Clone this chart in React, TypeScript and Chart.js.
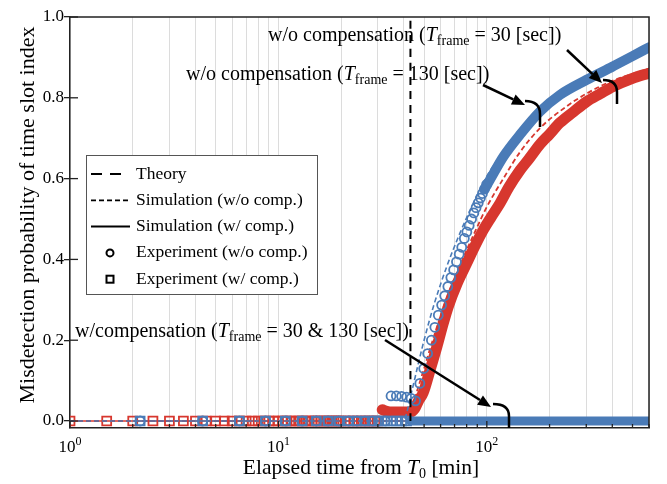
import React, { useEffect, useRef } from 'react';
import { Chart, registerables } from 'chart.js';

Chart.register(...registerables);

const BLUE = '#4a7bb7';
const RED = '#d7372e';
const FONT = '"Liberation Serif", "Times New Roman", serif';

// ---- axis ticks ----
const xTicks = [1, 2, 3, 4, 5, 6, 7, 8, 9, 10, 20, 30, 40, 50, 60, 70, 80, 90, 100, 200, 300, 400, 500, 600];
const xDecades = [1, 10, 100];
const xDecadeExp = ['0', '1', '2'];
const yTicks = [0, 0.2, 0.4, 0.6, 0.8, 1.0];

// ---- theory (vertical step at ~43 min) ----
const theoryT = [43, 43];
const theoryP = [0, 1];

// ---- simulation w/o compensation (dashed) ----
const simBlueWoT = [1, 39.6, 43.8, 46.8, 50, 55.4, 64.2, 74.3, 86.1, 99.8, 115.6, 140, 180, 240, 300, 400, 600];
const simBlueWoP = [0, 0, 0.077, 0.14, 0.2, 0.283, 0.382, 0.465, 0.539, 0.605, 0.654, 0.7, 0.762, 0.812, 0.843, 0.877, 0.925];
const simRedWoT = [1, 41, 43, 46, 50, 55, 60, 66, 75, 88, 100, 120, 144, 180, 240, 300, 400, 600];
const simRedWoP = [0, 0, 0.02, 0.07, 0.13, 0.2, 0.26, 0.32, 0.39, 0.47, 0.53, 0.6, 0.665, 0.725, 0.778, 0.81, 0.842, 0.872];

// ---- simulation w/ compensation (solid, at zero) ----
const simBlueWT = [2, 600];
const simBlueWP = [0, 0];
const simRedWT = [1, 600];
const simRedWP = [0, 0];

// ---- experiment w/o compensation, T_frame = 30 s (blue circles) ----
const expBlueWoZeroT = [2.17, 4.33, 6.5, 8.67, 10.8, 13, 15.2, 17.3, 19.5, 21.7, 23.8, 26, 28.2, 30.3, 32.5];
const expBlueWoZeroP = [0, 0, 0, 0, 0, 0, 0, 0, 0, 0, 0, 0, 0, 0, 0];
const expBlueWoT = [34.7, 36.8, 39.0, 41.2, 43.3, 45.5, 47.7, 49.8, 52.0, 54.2, 56.3, 58.5, 60.7, 62.8, 65.0, 67.2, 69.3, 71.5, 73.7, 75.8, 78.0, 80.2, 82.3, 84.5, 86.7, 88.8, 91.0, 93.2, 95.3, 97.5, 99.7];
const expBlueWoP = [0.062, 0.062, 0.061, 0.059, 0.056, 0.05, 0.093, 0.13, 0.167, 0.2, 0.232, 0.262, 0.287, 0.31, 0.333, 0.355, 0.374, 0.394, 0.413, 0.43, 0.452, 0.468, 0.484, 0.5, 0.515, 0.528, 0.54, 0.552, 0.563, 0.574, 0.585];
// dense part where the circles merge into a band
const expBlueWoBandT = [97.5, 103.5, 120, 144, 180, 224, 300, 400, 500, 600];
const expBlueWoBandP = [0.574, 0.597, 0.654, 0.708, 0.766, 0.807, 0.844, 0.877, 0.903, 0.925];

// ---- experiment w/o compensation, T_frame = 130 s (red circles, dense band) ----
const expRedWoBandT = [31.5, 33, 35, 38, 41, 43, 45, 47, 49.5, 53.4, 57.6, 61.8, 65.3, 72, 80, 88, 96.2, 105, 115.7, 128, 144, 160, 180, 200, 224, 260, 300, 350, 401, 500, 600];
const expRedWoBandP = [0.028, 0.024, 0.022, 0.022, 0.022, 0.022, 0.03, 0.05, 0.07, 0.126, 0.184, 0.242, 0.283, 0.34, 0.39, 0.435, 0.473, 0.505, 0.539, 0.58, 0.62, 0.65, 0.685, 0.71, 0.738, 0.765, 0.79, 0.81, 0.827, 0.848, 0.861];

// ---- experiment w/ compensation (squares, at zero) ----
const expRedWT = [1, 1.5, 2, 2.5, 3, 3.5, 4, 4.5, 5, 5.5, 6, 6.5, 7, 7.5, 8, 8.5, 9, 9.5, 10, 10.5, 11, 11.5, 12, 12.5, 13, 13.5, 14, 14.5, 15, 15.5, 16, 16.5, 17, 17.5, 18, 18.5, 19, 19.5, 20, 21, 22, 23, 24, 25, 26, 27, 28, 29, 30];
const expRedWP = [0, 0, 0, 0, 0, 0, 0, 0, 0, 0, 0, 0, 0, 0, 0, 0, 0, 0, 0, 0, 0, 0, 0, 0, 0, 0, 0, 0, 0, 0, 0, 0, 0, 0, 0, 0, 0, 0, 0, 0, 0, 0, 0, 0, 0, 0, 0, 0, 0];
const expBlueWT = [2.17, 4.33, 6.5, 8.67, 10.8, 13, 15.2, 17.3, 19.5, 21.7, 23.8, 26, 28.2, 30.3, 32.5, 34.7, 36.8, 39.0, 41.2];
const expBlueWP = [0, 0, 0, 0, 0, 0, 0, 0, 0, 0, 0, 0, 0, 0, 0, 0, 0, 0, 0];
const expBlueWBandT = [43, 600];
const expBlueWBandP = [0, 0];

// ---- legend ----
const legendLabels = ['Theory', 'Simulation (w/o comp.)', 'Simulation (w/ comp.)', 'Experiment (w/o comp.)', 'Experiment (w/ comp.)'];

const pts = (t: number[], p: number[]) => t.map((v, i) => ({ x: v, y: p[i] }));

type Seg = { t: string; f: string; dy?: number };
function drawRich(ctx: CanvasRenderingContext2D, x: number, y: number, segs: Seg[]) {
  let cx = x;
  for (const s of segs) {
    ctx.font = s.f;
    ctx.fillText(s.t, cx, y + (s.dy || 0));
    cx += ctx.measureText(s.t).width;
  }
  return cx;
}
function measureRich(ctx: CanvasRenderingContext2D, segs: Seg[]) {
  let w = 0;
  for (const s of segs) {
    ctx.font = s.f;
    w += ctx.measureText(s.t).width;
  }
  return w;
}
function arrow(ctx: CanvasRenderingContext2D, x1: number, y1: number, x2: number, y2: number) {
  const ang = Math.atan2(y2 - y1, x2 - x1);
  const L = 13, H = 5.5;
  const bx = x2 - L * Math.cos(ang), by = y2 - L * Math.sin(ang);
  ctx.beginPath();
  ctx.moveTo(x1, y1);
  ctx.lineTo(bx, by);
  ctx.stroke();
  ctx.beginPath();
  ctx.moveTo(x2, y2);
  ctx.lineTo(bx + H * Math.sin(ang), by - H * Math.cos(ang));
  ctx.lineTo(bx - H * Math.sin(ang), by + H * Math.cos(ang));
  ctx.closePath();
  ctx.fill();
}
function bracket(ctx: CanvasRenderingContext2D, x1: number, y1: number, x2: number, y2: number) {
  ctx.beginPath();
  ctx.moveTo(x1, y1);
  ctx.quadraticCurveTo(x2, y1, x2, y1 + (y2 - y1) * 0.5);
  ctx.lineTo(x2, y2);
  ctx.stroke();
}

const overlay = {
  id: 'overlay',
  afterDatasetsDraw(chart: any) {
    const ctx: CanvasRenderingContext2D = chart.ctx;
    const xs = chart.scales.x;
    const ys = chart.scales.y;
    const { left, right, top, bottom } = chart.chartArea;
    ctx.save();
    // frame top/right
    ctx.strokeStyle = '#222';
    ctx.lineWidth = 1.5;
    ctx.beginPath();
    ctx.moveTo(left, top);
    ctx.lineTo(right, top);
    ctx.lineTo(right, bottom);
    ctx.stroke();
    // inner ticks
    ctx.lineWidth = 1.3;
    for (const v of yTicks) {
      const py = ys.getPixelForValue(v);
      ctx.beginPath();
      ctx.moveTo(left, py);
      ctx.lineTo(left + 8, py);
      ctx.stroke();
    }
    for (const v of xTicks) {
      const px = xs.getPixelForValue(v);
      const len = xDecades.includes(v) ? 7 : 4;
      ctx.beginPath();
      ctx.moveTo(px, bottom);
      ctx.lineTo(px, bottom - len);
      ctx.stroke();
    }
    // x tick labels 10^n
    ctx.fillStyle = '#000';
    ctx.textBaseline = 'alphabetic';
    ctx.textAlign = 'left';
    xDecades.forEach((v, i) => {
      const px = xs.getPixelForValue(v);
      const segs: Seg[] = [
        { t: '10', f: `17px ${FONT}` },
        { t: xDecadeExp[i], f: `12px ${FONT}`, dy: -7 },
      ];
      const w = measureRich(ctx, segs);
      drawRich(ctx, px - w / 2, 452, segs);
    });
    // x title
    const xt: Seg[] = [
      { t: 'Elapsed time from ', f: `21.5px ${FONT}` },
      { t: 'T', f: `italic 21.5px ${FONT}` },
      { t: '0', f: `14px ${FONT}`, dy: 4 },
      { t: ' [min]', f: `21.5px ${FONT}` },
    ];
    const xw = measureRich(ctx, xt);
    drawRich(ctx, 361 - xw / 2, 474, xt);
    // y title
    ctx.save();
    ctx.translate(34, 215);
    ctx.rotate(-Math.PI / 2);
    ctx.textAlign = 'center';
    ctx.font = `22px ${FONT}`;
    ctx.fillText('Misdetection probability of time slot index', 0, 0);
    ctx.restore();

    // annotations
    ctx.textAlign = 'left';
    const big = `20px ${FONT}`;
    const it = `italic 20px ${FONT}`;
    const sub = `14px ${FONT}`;
    drawRich(ctx, 268, 41, [
      { t: 'w/o compensation (', f: big },
      { t: 'T', f: it },
      { t: 'frame', f: sub, dy: 4 },
      { t: ' = 30 [sec])', f: big },
    ]);
    drawRich(ctx, 186, 80, [
      { t: 'w/o compensation (', f: big },
      { t: 'T', f: it },
      { t: 'frame', f: sub, dy: 4 },
      { t: ' = 130 [sec])', f: big },
    ]);
    drawRich(ctx, 75, 337, [
      { t: 'w/compensation (', f: big },
      { t: 'T', f: it },
      { t: 'frame', f: sub, dy: 4 },
      { t: ' = 30 & 130 [sec])', f: big },
    ]);
    ctx.strokeStyle = '#000';
    ctx.fillStyle = '#000';
    ctx.lineWidth = 2.5;
    ctx.lineCap = 'butt';
    arrow(ctx, 567, 50, 602, 83);
    bracket(ctx, 603, 80, 617, 104);
    arrow(ctx, 483, 85, 525, 105);
    bracket(ctx, 525, 101, 540, 127);
    arrow(ctx, 385, 340, 491, 407);
    bracket(ctx, 493, 404, 509, 428);

    // legend
    const lx = 86, ly = 155, lw = 231, lh = 139;
    ctx.fillStyle = '#fff';
    ctx.fillRect(lx, ly, lw, lh);
    ctx.strokeStyle = '#555';
    ctx.lineWidth = 1;
    ctx.strokeRect(lx + 0.5, ly + 0.5, lw, lh);
    ctx.fillStyle = '#000';
    ctx.strokeStyle = '#000';
    ctx.font = `17.5px ${FONT}`;
    ctx.textBaseline = 'middle';
    legendLabels.forEach((lab, i) => {
      const cy = 174 + i * 26.3;
      ctx.fillText(lab, 136, cy);
      ctx.lineWidth = 2;
      if (i === 0) {
        ctx.setLineDash([11, 8]);
        ctx.beginPath(); ctx.moveTo(91, cy); ctx.lineTo(121, cy); ctx.stroke();
        ctx.setLineDash([]);
      } else if (i === 1) {
        ctx.lineWidth = 1.8;
        ctx.setLineDash([5, 3]);
        ctx.beginPath(); ctx.moveTo(91, cy); ctx.lineTo(130, cy); ctx.stroke();
        ctx.setLineDash([]);
      } else if (i === 2) {
        ctx.beginPath(); ctx.moveTo(91, cy); ctx.lineTo(130, cy); ctx.stroke();
      } else if (i === 3) {
        ctx.beginPath(); ctx.arc(110, cy, 3.5, 0, Math.PI * 2); ctx.stroke();
      } else {
        ctx.strokeRect(106.5, cy - 3.5, 7, 7);
      }
    });
    ctx.restore();
  },
};

export default function App() {
  const ref = useRef<HTMLCanvasElement>(null);
  useEffect(() => {
    if (!ref.current) return;
    const lineDs = (label: string, t: number[], p: number[], color: string, width: number, dash: number[], order: number) => ({
      label, data: pts(t, p), borderColor: color, borderWidth: width, borderDash: dash,
      pointRadius: 0, fill: false, order, cubicInterpolationMode: 'monotone' as const,
    });
    const bandDs = (label: string, t: number[], p: number[], color: string, width: number, order: number) => ({
      label, data: pts(t, p), borderColor: color, borderWidth: width, pointRadius: 0, fill: false, order,
      borderCapStyle: 'round' as const, borderJoinStyle: 'round' as const, cubicInterpolationMode: 'monotone' as const,
    });
    const markDs = (label: string, t: number[], p: number[], color: string, style: string, r: number, order: number) => ({
      label, data: pts(t, p), showLine: false, pointStyle: style, pointRadius: r,
      pointBorderWidth: 1.8, pointBorderColor: color, pointBackgroundColor: 'rgba(255,255,255,0)',
      borderColor: color, order,
    });
    const chart = new Chart(ref.current, {
      type: 'line',
      data: {
        datasets: [
          lineDs('Theory', theoryT, theoryP, '#000', 2, [8, 6], 0),
          bandDs('Experiment w/ comp. (30 s) dense', expBlueWBandT, expBlueWBandP, BLUE, 9, 1),
          markDs('Experiment w/ comp. (30 s)', expBlueWT, expBlueWP, BLUE, 'rect', 6.3, 2),
          markDs('Experiment w/o comp. (30 s) zero', expBlueWoZeroT, expBlueWoZeroP, BLUE, 'circle', 4.5, 3),
          markDs('Experiment w/o comp. (30 s)', expBlueWoT, expBlueWoP, BLUE, 'circle', 4.5, 4),
          bandDs('Experiment w/o comp. (30 s) dense', expBlueWoBandT, expBlueWoBandP, BLUE, 10, 5),
          lineDs('Simulation w/o comp. (30 s)', simBlueWoT, simBlueWoP, BLUE, 1.6, [5, 3], 6),
          lineDs('Simulation w/o comp. (130 s)', simRedWoT, simRedWoP, RED, 1.8, [5, 3], 7),
          bandDs('Experiment w/o comp. (130 s)', expRedWoBandT, expRedWoBandP, RED, 11, 8),
          markDs('Experiment w/ comp. (130 s)', expRedWT, expRedWP, RED, 'rect', 6.3, 9),
          lineDs('Simulation w/ comp. (30 s)', simBlueWT, simBlueWP, BLUE, 1.6, [], 10),
          lineDs('Simulation w/ comp. (130 s)', simRedWT, simRedWP, RED, 1.6, [], 11),
        ] as any,
      },
      options: {
        responsive: false,
        animation: false,
        devicePixelRatio: 1,
        layout: { padding: { left: 0, top: 17, right: 18, bottom: 0 } },
        plugins: { legend: { display: false }, tooltip: { enabled: false } },
        scales: {
          x: {
            type: 'logarithmic',
            min: 1,
            max: 600,
            afterBuildTicks: (s: any) => { s.ticks = xTicks.map((v) => ({ value: v })); },
            afterFit: (s: any) => { s.height = 56; },
            ticks: { autoSkip: false, maxRotation: 0, callback: () => '' },
            grid: { color: '#dcdcdc', lineWidth: 1, drawTicks: false },
            border: { display: true, color: '#222', width: 1.5 },
          },
          y: {
            type: 'linear',
            min: -0.0173,
            max: 1.0,
            afterBuildTicks: (s: any) => { s.ticks = yTicks.map((v) => ({ value: v })); },
            afterFit: (s: any) => { s.width = 70; },
            ticks: {
              padding: 0,
              color: '#000',
              font: { family: FONT, size: 17 },
              callback: (v: any) => Number(v).toFixed(1),
            },
            grid: { drawOnChartArea: false, drawTicks: true, tickLength: 6, color: '#222', lineWidth: 1.3 },
            border: { display: true, color: '#222', width: 1.5 },
          },
        },
      } as any,
      plugins: [overlay],
    });
    return () => chart.destroy();
  }, []);
  return (
    <div style={{ position: 'absolute', left: 0, top: 0, width: 667, height: 484, background: '#fff' }}>
      <canvas ref={ref} width={667} height={484} />
    </div>
  );
}
